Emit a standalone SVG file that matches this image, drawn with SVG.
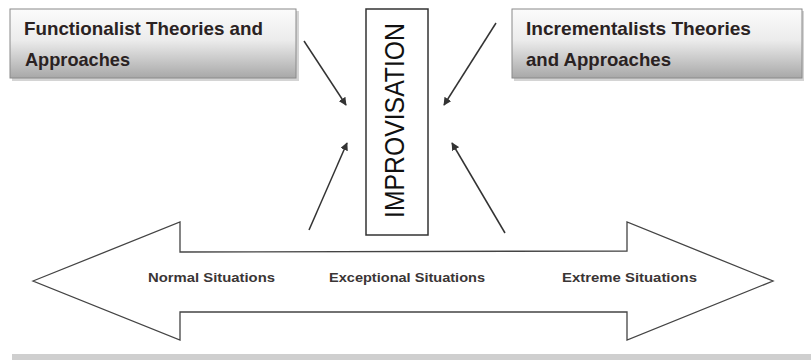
<svg xmlns="http://www.w3.org/2000/svg" width="811" height="360" viewBox="0 0 811 360">
<style>
.box{stroke:#8a8a8a;stroke-width:1;fill:url(#g)}
.shadow{fill:#b8b8b8;opacity:0.6}
.btxt{font-family:"Liberation Sans",Arial,sans-serif;font-weight:bold;font-size:19px;fill:#2a2222}
.stxt{font-family:"Liberation Sans",Arial,sans-serif;font-weight:bold;font-size:13px;fill:#3a3535}
.conn{stroke:#333;stroke-width:1.5;fill:none;marker-end:url(#ah)}
</style>
<defs>
<linearGradient id="g" x1="0" y1="0" x2="0" y2="1">
<stop offset="0" stop-color="#fbfbfb"/>
<stop offset="0.45" stop-color="#ececec"/>
<stop offset="1" stop-color="#a8a8a8"/>
</linearGradient>
<marker id="ah" viewBox="0 0 10 10" refX="9" refY="5" markerWidth="8" markerHeight="8" markerUnits="userSpaceOnUse" orient="auto">
<path d="M0,0 L10,5 L0,10 z" fill="#333"/>
</marker>
</defs>
<rect width="811" height="360" fill="#fff"/>
<rect x="12" y="354" width="799" height="6" fill="#cfcfcf"/>
<g id="functionalist">
<rect class="shadow" x="12" y="11" width="287" height="70"/>
<rect class="box" x="10" y="9" width="286" height="69"/>
<text class="btxt" x="24" y="35" textLength="239" lengthAdjust="spacingAndGlyphs">Functionalist Theories and</text>
<text class="btxt" x="25" y="66" textLength="105" lengthAdjust="spacingAndGlyphs">Approaches</text>
</g>
<g id="incrementalists">
<rect class="shadow" x="514" y="11" width="290" height="70"/>
<rect class="box" x="512" y="9" width="290" height="69"/>
<text class="btxt" x="526" y="35" textLength="225" lengthAdjust="spacingAndGlyphs">Incrementalists Theories</text>
<text class="btxt" x="526" y="66" textLength="145" lengthAdjust="spacingAndGlyphs">and Approaches</text>
</g>
<g id="improvisation">
<rect x="366" y="9" width="62" height="226" fill="#fff" stroke="#333" stroke-width="1.5"/>
<text transform="translate(404,218) rotate(-90)" x="0" y="0" font-family="'Liberation Sans',Arial,sans-serif" font-size="27" fill="#111" textLength="195" lengthAdjust="spacingAndGlyphs">IMPROVISATION</text>
</g>
<g id="situations">
<path d="M33,281 L180,222 L180,252 L627,251 L627,222 L773,281 L627,340 L627,312 L180,312 L180,340 Z" fill="#fff" stroke="#444" stroke-width="1.3" stroke-linejoin="miter"/>
<text class="stxt" x="148" y="282" textLength="127" lengthAdjust="spacingAndGlyphs">Normal Situations</text>
<text class="stxt" x="329" y="282" textLength="156" lengthAdjust="spacingAndGlyphs">Exceptional Situations</text>
<text class="stxt" x="562" y="282" textLength="135" lengthAdjust="spacingAndGlyphs">Extreme Situations</text>
</g>
<g id="connectors">
<line class="conn" x1="304" y1="41" x2="346" y2="105"/>
<line class="conn" x1="496" y1="23" x2="444" y2="105"/>
<line class="conn" x1="309" y1="230" x2="347" y2="143"/>
<line class="conn" x1="505" y1="233" x2="452" y2="143"/>
</g>
</svg>
